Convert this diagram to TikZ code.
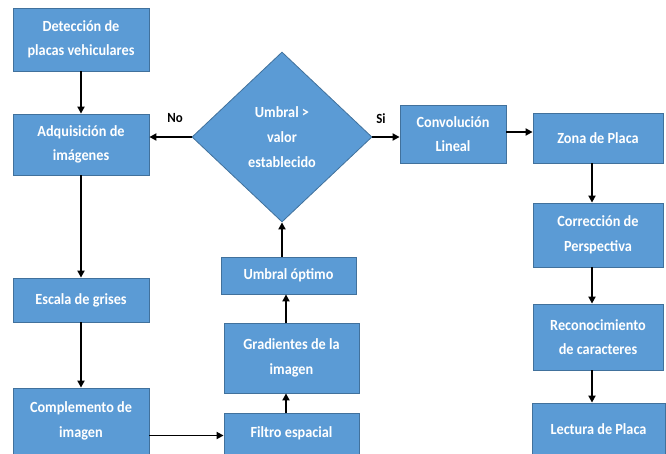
\documentclass[tikz,border=0pt]{standalone}
\usepackage{fontspec}
\setmainfont{Carlito}[FakeStretch=0.92]
\usetikzlibrary{arrows.meta,shapes.geometric}
\definecolor{boxfill}{HTML}{5B9BD5}
\definecolor{boxline}{HTML}{41719C}
\tikzset{
  box/.style={rectangle, fill=boxfill, draw=boxline, line width=0.8pt, inner sep=0pt,
    text=white, align=center, font=\fontsize{15.5}{24.5}\selectfont\bfseries},
  dia/.style={diamond, fill=boxfill, draw=boxline, line width=0.8pt, inner sep=0pt,
    text=white, align=center, font=\fontsize{15.5}{25}\selectfont\bfseries},
  arr/.style={line width=1.8pt, -{Triangle[length=7pt,width=7pt]}},
  lbl/.style={font=\fontsize{14}{15}\selectfont\bfseries, text=black}
}
\begin{document}
\begin{tikzpicture}[x=1pt,y=-1pt]
\useasboundingbox (0,0) rectangle (666,453);
\node[box, minimum width=136pt, minimum height=63pt] (det) at (81,39.5) {Detección de\\placas vehiculares};
\node[box, minimum width=136pt, minimum height=61pt] (adq) at (81,144.5) {Adquisición de\\imágenes};
\node[box, minimum width=136pt, minimum height=44pt] (esc) at (81,300) {Escala de grises};
\node[box, minimum width=136pt, minimum height=66pt] (comp) at (81,421) {Complemento de\\imagen};
\node[box, minimum width=135pt, minimum height=41pt] (fil) at (291.5,433.5) {Filtro espacial};
\node[box, minimum width=135pt, minimum height=70pt] (grad) at (291.5,358) {Gradientes de la\\imagen};
\node[box, minimum width=135pt, minimum height=37pt] (umb) at (288.5,275.5) {Umbral óptimo};
\node[dia, minimum width=180pt, minimum height=170pt] (dec) at (282,137) {Umbral >\\valor\\establecido};
\node[box, minimum width=106pt, minimum height=58pt] (conv) at (453,134) {Convolución\\Lineal};
\node[box, minimum width=130pt, minimum height=50pt] (zona) at (598,138) {Zona de Placa};
\node[box, minimum width=130pt, minimum height=64pt] (corr) at (598,235) {Corrección de\\Perspectiva};
\node[box, minimum width=130pt, minimum height=66pt] (rec) at (598,337) {Reconocimiento\\de caracteres};
\node[box, minimum width=133pt, minimum height=52pt] (lect) at (598.5,429) {Lectura de Placa};
\node[lbl] (no) at (175,118) {No};
\node[lbl] (si) at (381,119) {Si};
\draw[arr] (det.south) -- (adq.north);
\draw[arr] (dec.west) -- (dec.west -| adq.east);
\draw[arr] (adq.south) -- (esc.north);
\draw[arr] (esc.south) -- (comp.north);
\draw[arr] ([yshift=-2pt]fil.west -| comp.east) -- ([yshift=-2pt]fil.west);
\draw[arr] ([xshift=-5.5pt]fil.north) -- ([xshift=-5.5pt]grad.south);
\draw[arr] ([xshift=-5.5pt]grad.north) -- ([xshift=-5.5pt]grad.north |- umb.south);
\draw[arr] (umb.north -| dec.south) -- (dec.south);
\draw[arr] (dec.east) -- (dec.east -| conv.west);
\draw[arr] ([yshift=2pt]conv.east) -- ([yshift=2pt]conv.east -| zona.west);
\draw[arr] ([xshift=-6pt]zona.south) -- ([xshift=-6pt]corr.north);
\draw[arr] ([xshift=-6pt]corr.south) -- ([xshift=-6pt]corr.south |- rec.north);
\draw[arr] ([xshift=-6pt]corr.south |- rec.south) -- ([xshift=-6pt]corr.south |- lect.north);
\end{tikzpicture}
\end{document}
